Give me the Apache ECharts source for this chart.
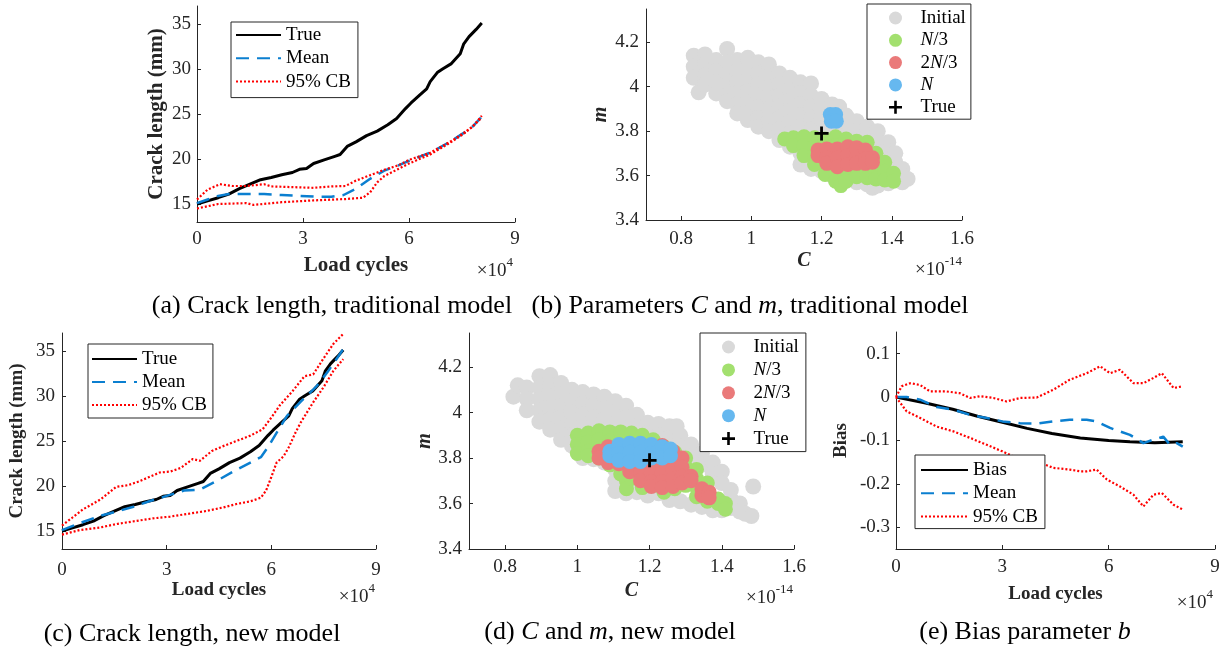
<!DOCTYPE html>
<html>
<head>
<meta charset="utf-8">
<script src="https://cdn.jsdelivr.net/npm/echarts@6.0.0/dist/echarts.min.js"></script>
<style>
html, body { margin: 0; padding: 0; background: #fff; }
#chart { width: 1227px; height: 652px; }
</style>
</head>
<body>
<div id="chart"></div>
<script>
// x values of the crack / bias panels are in units of 1e4 load cycles,
// C values of the scatter panels in units of 1e-14

// (a) and (c): true crack length (mm)
const trueCrack = [[0,15.0],[0.3,15.35],[0.6,15.7],[0.9,16.1],[1.2,16.7],[1.5,17.2],[1.8,17.7],[2.1,17.95],
  [2.4,18.25],[2.7,18.5],[2.9,18.85],[3.1,18.95],[3.3,19.5],[3.6,19.9],[3.9,20.3],[4.05,20.5],[4.25,21.4],
  [4.5,21.9],[4.8,22.6],[5.1,23.1],[5.4,23.8],[5.65,24.5],[5.9,25.6],[6.05,26.2],[6.3,27.1],[6.5,27.8],
  [6.6,28.6],[6.8,29.6],[6.95,30.0],[7.2,30.6],[7.45,31.7],[7.55,32.8],[7.7,33.6],[7.9,34.4],[8.06,35.1]];

// (a) traditional model
const meanA = [[0,15.1],[0.3,15.5],[0.6,15.9],[0.9,16.1],[1.4,16.1],[1.9,16.1],[2.4,16.0],[2.9,15.9],
  [3.4,15.8],[3.8,15.8],[4.15,16.0],[4.5,16.7],[4.9,17.8],[5.3,18.7],[5.7,19.3],[6.0,19.8],[6.6,20.7],
  [7.2,22.0],[7.55,22.9],[7.8,23.6],[8.06,24.7]];
const upperA = [[0,15.5],[0.3,16.6],[0.65,17.2],[1.0,17.0],[1.4,17.0],[1.9,17.2],[2.1,16.95],[2.5,16.9],
  [2.9,16.85],[3.3,16.8],[3.8,16.95],[4.2,17.0],[4.5,17.6],[4.9,18.2],[5.3,18.8],[5.7,19.3],[6.0,19.9],
  [6.6,20.7],[7.2,22.0],[7.55,22.9],[7.8,23.6],[8.06,24.8]];
const lowerA = [[0,14.5],[0.6,15.0],[1.4,15.1],[1.6,14.9],[2.4,15.2],[3.3,15.4],[4.2,15.55],[4.7,15.7],
  [4.9,16.3],[5.1,17.4],[5.3,18.1],[5.7,18.9],[6.0,19.5],[6.6,20.5],[7.2,21.9],[7.55,22.8],[7.8,23.6],[8.06,24.6]];

// (c) new model
const meanC = [[0,15.1],[0.6,16.0],[1.1,16.7],[1.6,17.2],[2.05,17.7],[2.5,18.3],[3.0,18.9],[3.5,19.5],
  [3.95,19.6],[4.45,20.6],[4.9,21.6],[5.4,22.6],[5.7,23.2],[5.9,24.3],[6.15,25.9],[6.45,27.8],[6.85,29.4],
  [7.3,31.1],[7.6,32.6],[7.85,34.0],[8.06,35.2]];
const upperC = [[0,15.6],[0.3,16.5],[0.6,17.4],[1.1,18.5],[1.55,19.9],[1.9,20.1],[2.2,20.5],[2.5,21.0],
  [2.8,21.5],[3.1,21.6],[3.4,22.0],[3.75,23.0],[3.95,22.8],[4.3,23.9],[4.6,24.4],[5.0,25.0],[5.4,25.6],
  [5.75,26.3],[6.0,27.6],[6.25,29.0],[6.6,30.5],[6.95,32.2],[7.2,32.4],[7.5,34.2],[7.78,35.8],[8.06,36.9]];
const lowerC = [[0,14.6],[0.5,15.1],[1.1,15.4],[1.6,15.8],[2.1,16.1],[2.6,16.4],[3.1,16.6],[3.6,16.9],
  [4.1,17.2],[4.6,17.6],[5.0,18.0],[5.4,18.3],[5.7,18.7],[5.85,19.5],[6.0,21.0],[6.15,22.6],[6.35,23.3],
  [6.5,24.3],[6.7,26.0],[6.85,27.1],[7.2,29.3],[7.5,31.0],[7.78,32.8],[8.06,34.1]];

// (e) bias parameter
const biasTrue = [[0,0],[0.8,-0.013],[1.6,-0.028],[2.3,-0.044],[3.0,-0.058],[3.7,-0.072],[4.4,-0.084],
  [5.2,-0.094],[6.0,-0.100],[6.6,-0.103],[7.3,-0.105],[8.09,-0.103]];
const meanE = [[0,0],[0.3,0.0],[0.68,-0.006],[1.15,-0.023],[1.62,-0.029],[2.09,-0.041],[2.56,-0.048],
  [3.0,-0.056],[3.5,-0.06],[3.97,-0.061],[4.44,-0.056],[4.9,-0.052],[5.38,-0.052],[5.66,-0.056],[6.04,-0.071],
  [6.32,-0.079],[6.6,-0.087],[6.98,-0.106],[7.26,-0.098],[7.54,-0.091],[7.73,-0.11],[7.92,-0.106],[8.09,-0.114]];
const upperE = [[0,0],[0.16,0.025],[0.4,0.032],[0.68,0.028],[0.96,0.013],[1.43,0.013],[1.8,0.009],
  [2.09,-0.002],[2.37,0.002],[2.75,-0.002],[3.12,-0.01],[3.5,-0.002],[3.97,-0.001],[4.44,0.017],[4.9,0.04],
  [5.38,0.055],[5.76,0.071],[6.04,0.055],[6.32,0.063],[6.7,0.032],[6.98,0.032],[7.26,0.044],[7.5,0.055],
  [7.83,0.021],[8.09,0.025]];
const lowerE = [[0,0],[0.3,-0.033],[0.68,-0.048],[1.15,-0.068],[1.62,-0.079],[2.09,-0.094],[2.56,-0.11],
  [3.0,-0.125],[3.5,-0.144],[3.97,-0.148],[4.44,-0.163],[4.9,-0.167],[5.19,-0.171],[5.38,-0.171],
  [5.66,-0.167],[5.95,-0.19],[6.32,-0.206],[6.7,-0.225],[6.98,-0.252],[7.26,-0.225],[7.5,-0.221],
  [7.83,-0.248],[8.09,-0.259]];

// (b) particles (C, m), traditional model
const initialB = [
  [0.836,4.14],[0.836,4.09],[0.836,4.04],[0.850,3.975],
  [0.868,4.145],[0.868,4.10],[0.868,4.05],[0.868,4.01],
  [0.90,4.12],[0.90,4.07],[0.90,4.02],[0.90,3.97],
  [0.931,4.17],[0.931,4.11],[0.931,4.06],[0.931,4.01],[0.931,3.96],[0.931,3.935],
  [0.96,4.12],[0.96,4.07],[0.96,4.02],[0.96,3.97],[0.96,3.92],[0.96,3.88],
  [0.99,4.13],[0.99,4.08],[0.99,4.03],[0.99,3.98],[0.99,3.93],[0.99,3.88],[0.99,3.85],
  [1.02,4.11],[1.02,4.06],[1.02,4.01],[1.02,3.96],[1.02,3.91],[1.02,3.86],[1.02,3.82],
  [1.05,4.10],[1.05,4.05],[1.05,4.00],[1.05,3.95],[1.05,3.90],[1.05,3.85],[1.05,3.80],
  [1.08,4.06],[1.08,4.01],[1.08,3.96],[1.08,3.91],[1.08,3.86],[1.08,3.81],[1.08,3.76],
  [1.11,4.04],[1.11,3.99],[1.11,3.94],[1.11,3.89],[1.11,3.84],[1.11,3.79],[1.11,3.73],
  [1.14,4.02],[1.14,3.97],[1.14,3.92],[1.14,3.87],[1.14,3.82],[1.14,3.77],[1.14,3.70],[1.14,3.65],
  [1.17,4.015],[1.17,3.96],[1.17,3.91],[1.17,3.86],[1.17,3.81],[1.17,3.66],[1.17,3.63],
  [1.20,3.945],[1.20,3.90],[1.20,3.85],[1.20,3.80],[1.20,3.62],
  [1.23,3.92],[1.23,3.87],[1.23,3.82],[1.23,3.60],
  [1.25,3.91],
  [1.27,3.87],[1.27,3.82],[1.27,3.78],[1.27,3.58],
  [1.30,3.845],[1.30,3.80],[1.30,3.57],
  [1.33,3.82],[1.33,3.78],[1.33,3.56],[1.345,3.545],
  [1.36,3.80],[1.36,3.75],[1.36,3.555],
  [1.39,3.75],[1.39,3.71],[1.39,3.565],
  [1.41,3.70],[1.41,3.66],[1.41,3.58],
  [1.43,3.63],[1.43,3.60],[1.43,3.57],
  [1.445,3.585]];
const thirdB = [
  [1.095,3.765],
  [1.12,3.77],[1.12,3.735],
  [1.15,3.775],[1.15,3.735],[1.15,3.69],
  [1.18,3.77],[1.18,3.73],[1.18,3.69],[1.18,3.65],
  [1.21,3.765],[1.21,3.725],[1.21,3.685],[1.21,3.645],[1.21,3.605],
  [1.24,3.775],[1.24,3.735],[1.24,3.695],[1.24,3.655],[1.24,3.615],[1.24,3.575],
  [1.255,3.555],
  [1.27,3.765],[1.27,3.725],[1.27,3.685],[1.27,3.645],[1.27,3.605],[1.27,3.575],
  [1.30,3.755],[1.30,3.715],[1.30,3.675],[1.30,3.635],[1.30,3.595],
  [1.33,3.75],[1.33,3.71],[1.33,3.67],[1.33,3.63],[1.33,3.59],
  [1.355,3.70],[1.355,3.66],[1.355,3.62],[1.355,3.585],
  [1.38,3.66],[1.38,3.62],[1.38,3.58],
  [1.405,3.61],[1.405,3.575]];
const twoThirdB = [
  [1.19,3.715],[1.19,3.69],
  [1.215,3.72],[1.215,3.68],[1.215,3.655],
  [1.245,3.72],[1.245,3.68],[1.245,3.64],
  [1.275,3.73],[1.275,3.69],[1.275,3.65],
  [1.30,3.725],[1.30,3.685],[1.30,3.655],
  [1.325,3.715],[1.325,3.675],[1.325,3.655],
  [1.345,3.68],[1.345,3.66]];
const finalB = [[1.225,3.875],[1.24,3.875],[1.228,3.845],[1.242,3.845]];

// (d) particles (C, m), new model
const initialD = [
  [0.823,4.07],[0.835,4.12],
  [0.86,4.11],[0.86,4.06],[0.86,4.01],
  [0.895,4.16],[0.895,4.11],[0.895,4.06],[0.895,4.01],[0.895,3.96],
  [0.925,4.165],[0.925,4.12],[0.925,4.07],[0.925,4.02],[0.925,3.97],[0.925,3.925],
  [0.955,4.13],[0.955,4.08],[0.955,4.03],[0.955,3.98],[0.955,3.93],[0.955,3.88],
  [0.985,4.10],[0.985,4.05],[0.985,4.00],[0.985,3.95],[0.985,3.90],[0.985,3.855],
  [1.015,4.09],[1.015,4.04],[1.015,3.99],[1.015,3.94],[1.015,3.89],[1.015,3.84],[1.015,3.80],
  [1.045,4.08],[1.045,4.03],[1.045,3.98],[1.045,3.93],[1.045,3.88],[1.045,3.83],[1.045,3.795],
  [1.075,4.07],[1.075,4.02],[1.075,3.97],[1.075,3.92],[1.075,3.87],[1.075,3.82],[1.075,3.78],
  [1.105,4.05],[1.105,4.00],[1.105,3.95],[1.105,3.90],[1.105,3.75],[1.105,3.70],[1.105,3.655],
  [1.135,4.03],[1.135,3.98],[1.135,3.93],[1.135,3.73],[1.135,3.68],[1.135,3.645],
  [1.165,3.99],[1.165,3.94],[1.165,3.69],[1.165,3.65],
  [1.195,3.955],[1.195,3.91],[1.195,3.66],[1.195,3.635],
  [1.225,3.95],[1.225,3.90],[1.225,3.645],
  [1.255,3.94],[1.255,3.89],[1.255,3.615],
  [1.275,3.94],
  [1.285,3.90],[1.285,3.85],[1.285,3.61],
  [1.315,3.86],[1.315,3.81],[1.315,3.595],
  [1.345,3.82],[1.345,3.77],[1.345,3.585],
  [1.375,3.78],[1.375,3.73],[1.375,3.57],
  [1.40,3.74],[1.40,3.69],[1.40,3.57],
  [1.425,3.66],[1.425,3.62],[1.425,3.58],
  [1.45,3.60],[1.45,3.565],
  [1.465,3.555],[1.482,3.545],[1.487,3.675]];
const thirdD = [
  [1.0,3.90],[1.0,3.86],[1.0,3.82],
  [1.03,3.91],[1.03,3.87],[1.03,3.83],[1.03,3.81],
  [1.06,3.92],[1.06,3.88],[1.06,3.84],[1.06,3.80],
  [1.09,3.915],[1.09,3.875],[1.09,3.835],[1.09,3.795],[1.09,3.77],
  [1.12,3.915],[1.12,3.875],[1.12,3.835],[1.12,3.795],[1.12,3.755],[1.12,3.73],
  [1.136,3.70],[1.136,3.665],
  [1.15,3.91],[1.15,3.87],[1.15,3.83],[1.15,3.79],[1.15,3.75],[1.15,3.71],
  [1.18,3.90],[1.18,3.86],[1.18,3.82],[1.18,3.78],[1.18,3.74],[1.18,3.70],[1.18,3.67],
  [1.21,3.88],[1.21,3.84],[1.21,3.80],[1.21,3.76],[1.21,3.72],[1.21,3.68],
  [1.24,3.85],[1.24,3.81],[1.24,3.77],[1.24,3.73],[1.24,3.69],[1.24,3.65],
  [1.27,3.825],[1.27,3.785],[1.27,3.745],[1.27,3.705],[1.27,3.665],
  [1.30,3.80],[1.30,3.76],[1.30,3.72],[1.30,3.68],
  [1.33,3.75],[1.33,3.71],[1.33,3.67],[1.33,3.63],
  [1.36,3.69],[1.36,3.65],[1.36,3.61],
  [1.39,3.62],[1.39,3.60],
  [1.41,3.60],[1.41,3.575]];
const twoThirdD = [
  [1.06,3.83],[1.06,3.80],
  [1.085,3.85],[1.085,3.81],[1.085,3.78],
  [1.115,3.855],[1.115,3.815],[1.115,3.775],
  [1.145,3.855],[1.145,3.815],[1.145,3.775],[1.145,3.74],
  [1.175,3.855],[1.175,3.815],[1.175,3.775],[1.175,3.735],[1.175,3.70],
  [1.205,3.855],[1.205,3.815],[1.205,3.775],[1.205,3.735],[1.205,3.695],[1.205,3.675],
  [1.235,3.855],[1.235,3.815],[1.235,3.775],[1.235,3.735],[1.235,3.695],[1.235,3.67],
  [1.265,3.83],[1.265,3.79],[1.265,3.75],[1.265,3.71],[1.265,3.675],
  [1.29,3.80],[1.29,3.76],[1.29,3.72],[1.29,3.69],
  [1.315,3.72],[1.315,3.70],
  [1.345,3.665],[1.345,3.635],
  [1.365,3.65],[1.365,3.625]];
const finalD = [
  [1.09,3.83],[1.09,3.81],
  [1.115,3.86],[1.115,3.82],[1.115,3.79],
  [1.145,3.865],[1.145,3.825],[1.145,3.785],
  [1.175,3.865],[1.175,3.825],[1.175,3.785],
  [1.205,3.86],[1.205,3.82],[1.205,3.80],
  [1.235,3.85],[1.235,3.81],[1.235,3.80],
  [1.258,3.84],[1.258,3.81]];
const trueParam = [[1.2, 3.79]];

// tick labels
const cycleTicks = [0, 3, 6, 9];
const crackTicks = [15, 20, 25, 30, 35];
const cTicks = [0.8, 1, 1.2, 1.4, 1.6];
const mTicks = [3.4, 3.6, 3.8, 4, 4.2];
const biasTicks = [-0.3, -0.2, -0.1, 0, 0.1];

const FONT = '"Liberation Serif", "Times New Roman", serif';
const INK = '#262626';
const BLUE = '#0b7fd0';
const RED = '#ff0000';
const GRAY = '#d9d9d9', GREEN = '#a3e06f', SALMON = '#ea7a7a', SKY = '#66b8ef';
const PLUS = 'path://M4.8,0H7.2V4.8H12V7.2H7.2V12H4.8V7.2H0V4.8H4.8Z';
const DASH = [13, 8], DOT = [2, 2];

const legendText = {
  'True': 'True', 'Mean': 'Mean', '95% CB': '95% CB', 'Bias': 'Bias', 'Initial': 'Initial',
  'N/3': '{i|N}/3', '2N/3': '2{i|N}/3', 'N': '{i|N}'
};

function axis(grid, min, max, ticks, name, o) {
  return {
    type: 'value', gridIndex: grid, min: min, max: max,
    name: name, nameLocation: 'middle', nameGap: o.gap, nameRotate: o.rotate || 0,
    nameTextStyle: { fontFamily: FONT, fontWeight: 'bold', fontStyle: o.italic ? 'italic' : 'normal',
      fontSize: o.nameSize || 20, color: INK },
    axisLine: { show: true, onZero: false, lineStyle: { color: INK, width: 1 } },
    axisTick: { show: true, inside: true, length: 4, customValues: ticks, lineStyle: { color: INK } },
    axisLabel: { customValues: ticks, color: INK, fontFamily: FONT, fontSize: 19, margin: o.margin },
    splitLine: { show: false }
  };
}

function line(name, data, ax, color, width, type) {
  return { name: name, type: 'line', data: data, xAxisIndex: ax, yAxisIndex: ax, symbol: 'none',
    lineStyle: { color: color, width: width, type: type }, itemStyle: { color: color }, silent: true };
}

function dots(name, data, ax, color, size, symbol) {
  return { name: name, type: 'scatter', data: data, xAxisIndex: ax, yAxisIndex: ax,
    symbol: symbol || 'circle', symbolSize: size, itemStyle: { color: color, opacity: 1 }, silent: true };
}

function legend(left, top, data, padding, itemWidth, itemHeight, itemGap, lines) {
  const l = {
    orient: 'vertical', left: left, top: top, data: data, padding: padding,
    itemWidth: itemWidth, itemHeight: itemHeight, itemGap: itemGap, selectedMode: false,
    backgroundColor: '#fff', borderColor: INK, borderWidth: 1, borderRadius: 0,
    textStyle: { fontFamily: FONT, fontSize: 19, color: '#000', lineHeight: 20,
      rich: { i: { fontFamily: FONT, fontSize: 19, fontStyle: 'italic', color: '#000', lineHeight: 20 } } },
    formatter: function (n) { return legendText[n.slice(2)]; }
  };
  // line entries: keep the line sample, hide the marker
  if (lines) l.itemStyle = { opacity: 0 };
  return l;
}

function caption(x, y, text) {
  return { type: 'text', x: x, y: y, silent: true,
    style: { text: text, fontFamily: FONT, fontSize: 26, fill: '#000', align: 'center', verticalAlign: 'middle',
      rich: { i: { fontFamily: FONT, fontSize: 26, fontStyle: 'italic', fill: '#000' } } } };
}

function power(x, y, exp) {
  return { type: 'text', x: x, y: y, silent: true,
    style: { text: '{a|×10}{b|' + exp + '}', align: 'right', verticalAlign: 'middle', fill: INK,
      rich: {
        a: { fontFamily: FONT, fontSize: 19, lineHeight: 30, verticalAlign: 'middle', fill: INK },
        b: { fontFamily: FONT, fontSize: 13, lineHeight: 30, verticalAlign: 'top', fill: INK }
      } } };
}

const option = {
  animation: false,
  backgroundColor: '#fff',
  textStyle: { fontFamily: FONT },
  grid: [
    { left: 197, top: 6, width: 318, height: 216 },
    { left: 646, top: 9, width: 316, height: 211 },
    { left: 62, top: 333, width: 314, height: 216 },
    { left: 469, top: 333, width: 325, height: 216 },
    { left: 896, top: 332, width: 319, height: 217 }
  ],
  xAxis: [
    axis(0, 0, 9, cycleTicks, 'Load cycles', { gap: 33, margin: 8, nameSize: 21 }),
    axis(1, 0.7, 1.6, cTicks, 'C', { gap: 31, margin: 10, italic: true }),
    axis(2, 0, 9, cycleTicks, 'Load cycles', { gap: 31, margin: 12, nameSize: 19 }),
    axis(3, 0.7, 1.6, cTicks, 'C', { gap: 32, margin: 9, italic: true }),
    axis(4, 0, 9, cycleTicks, 'Load cycles', { gap: 36, margin: 9, nameSize: 19 })
  ],
  yAxis: [
    axis(0, 13, 37, crackTicks, 'Crack length (mm)', { gap: 30, margin: 6, rotate: 90, nameSize: 21 }),
    axis(1, 3.4, 4.35, mTicks, 'm', { gap: 35, margin: 7, rotate: 90, italic: true }),
    axis(2, 13, 37, crackTicks, 'Crack length (mm)', { gap: 35, margin: 7, rotate: 90, nameSize: 19 }),
    axis(3, 3.4, 4.35, mTicks, 'm', { gap: 34, margin: 7, rotate: 90, italic: true }),
    axis(4, -0.35, 0.15, biasTicks, 'Bias', { gap: 45, margin: 6, rotate: 90, nameSize: 19 })
  ],
  legend: [
    legend(231, 22, ['a:True', 'a:Mean', 'a:95% CB'], [3, 7, 6, 4], 45, 20, 3.3, true),
    legend(867, 4, ['b:Initial', 'b:N/3', 'b:2N/3', 'b:N', 'b:True'], [4, 5, 2, 22], 40, 13, 2.3, false),
    legend(88, 344, ['c:True', 'c:Mean', 'c:95% CB'], [5, 6, 3, 3], 45, 20, 3.0, true),
    legend(700, 333, ['d:Initial', 'd:N/3', 'd:2N/3', 'd:N', 'd:True'], [4, 7, 3, 22], 40, 13, 2.9, false),
    legend(915, 455, ['e:Bias', 'e:Mean', 'e:95% CB'], [5, 7, 2, 5], 47, 20, 3.3, true)
  ],
  series: [
    line('a:True', trueCrack, 0, '#000', 3, 'solid'),
    line('a:Mean', meanA, 0, BLUE, 2.5, DASH),
    line('a:95% CB', lowerA, 0, RED, 2.2, DOT),
    line('a:95% CB', upperA, 0, RED, 2.2, DOT),

    dots('b:Initial', initialB, 1, GRAY, 16),
    dots('b:N/3', thirdB, 1, GREEN, 15),
    dots('b:2N/3', twoThirdB, 1, SALMON, 15),
    dots('b:N', finalB, 1, SKY, 15),
    dots('b:True', trueParam, 1, '#000', 14, PLUS),

    line('c:True', trueCrack, 2, '#000', 3, 'solid'),
    line('c:Mean', meanC, 2, BLUE, 2.5, DASH),
    line('c:95% CB', upperC, 2, RED, 2.2, DOT),
    line('c:95% CB', lowerC, 2, RED, 2.2, DOT),

    dots('d:Initial', initialD, 3, GRAY, 16),
    dots('d:N/3', thirdD, 3, GREEN, 15),
    dots('d:2N/3', twoThirdD, 3, SALMON, 15),
    dots('d:N', finalD, 3, SKY, 15),
    dots('d:True', trueParam, 3, '#000', 14, PLUS),

    line('e:Bias', biasTrue, 4, '#000', 3, 'solid'),
    line('e:Mean', meanE, 4, BLUE, 2.5, DASH),
    line('e:95% CB', upperE, 4, RED, 2.2, DOT),
    line('e:95% CB', lowerE, 4, RED, 2.2, DOT)
  ],
  graphic: [
    caption(332, 306, '(a) Crack length, traditional model'),
    caption(750, 306, '(b) Parameters {i|C} and {i|m}, traditional model'),
    caption(192, 634, '(c) Crack length, new model'),
    caption(610, 632, '(d) {i|C} and {i|m}, new model'),
    caption(1025, 632, '(e) Bias parameter {i|b}'),
    power(513, 271, '4'),
    power(962, 270, '-14'),
    power(375, 597, '4'),
    power(793, 598, '-14'),
    power(1213, 603, '4')
  ]
};

const chart = echarts.init(document.getElementById('chart'), null, { renderer: 'canvas' });
chart.setOption(option);
</script>
</body>
</html>
